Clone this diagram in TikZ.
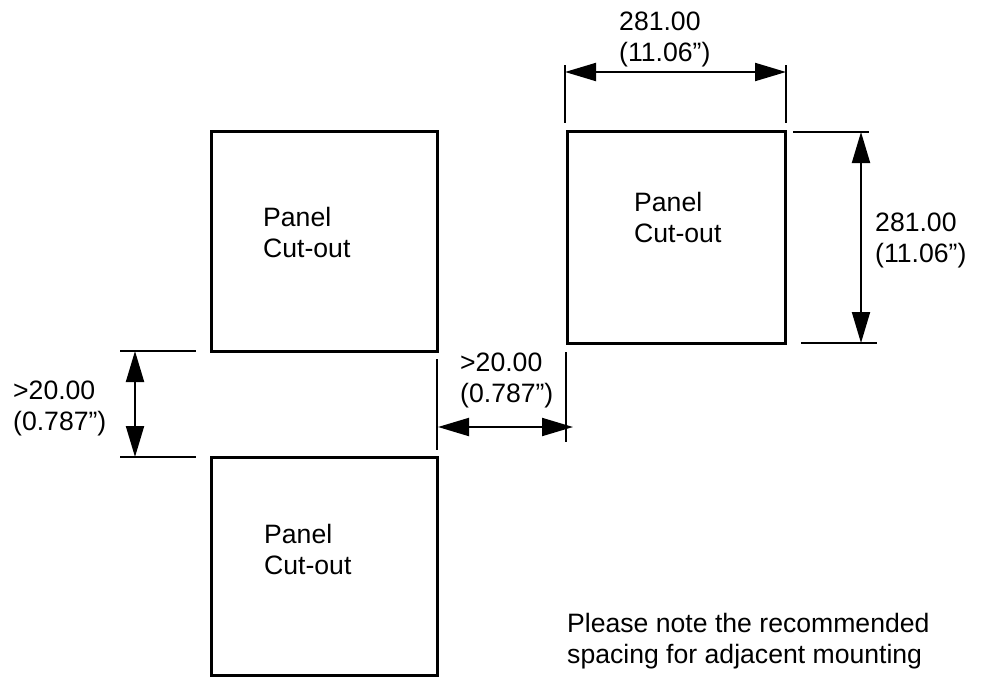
\documentclass[tikz,border=0pt]{standalone}
\usepackage{fontspec}
\setmainfont{Liberation Sans}
\usepackage{tikz}
\usetikzlibrary{arrows.meta,positioning,calc}
\tikzstyle{CUTOUT} = [rectangle, draw, line width=3pt, inner sep=0pt]
\tikzstyle{LABEL} = [anchor=base west, align=left, inner sep=0pt, font=\fontsize{26.6}{30.5}\selectfont]
\tikzstyle{EXTLINE} = [draw, line width=2pt]
\tikzstyle{DIMARROW} = [draw, line width=2pt, {Triangle[length=31pt,width=18pt]}-{Triangle[length=31pt,width=18pt]}]

\begin{document}
\begin{tikzpicture}[x=1pt, y=-1pt]
\useasboundingbox (0,0) rectangle (981,677);
% Place nodes
\node [CUTOUT, minimum width=226pt, minimum height=219.5pt] (cutTL) at (324.5,241.25) {};
\node [CUTOUT, minimum width=226pt, minimum height=217.5pt] (cutB) at (324,566.25) {};
\node [CUTOUT, minimum width=218pt, minimum height=211.5pt] (cutR) at (676,237.25) {};
\node [LABEL] (txtTL) at (263,257) {Panel\\Cut-out};
\node [LABEL] (txtB) at (264,574) {Panel\\Cut-out};
\node [LABEL] (txtR) at (634,242) {Panel\\Cut-out};
\node [LABEL] (dimTop) at (619,61) {281.00\\(11.06”)};
\node [LABEL] (dimRight) at (875,262) {281.00\\(11.06”)};
\node [LABEL] (dimLeft) at (13,430) {>20.00\\(0.787”)};
\node [LABEL] (dimMid) at (460,402) {>20.00\\(0.787”)};
\node [LABEL] (note) at (567,663) {Please note the recommended\\spacing for adjacent mounting};
% Dimension end points
\coordinate (topA) at (565,72);
\coordinate (topB) at (786,72);
\coordinate (rightA) at (861,132);
\coordinate (rightB) at (861,343);
\coordinate (leftA) at (135,351);
\coordinate (leftB) at (135,457);
\coordinate (midA) at (438,427);
\coordinate (midB) at (573,427);
% LINES and ARROWS
\path [EXTLINE] (565,65) -- (565,123);
\path [EXTLINE] (786,65) -- (786,123);
\path [EXTLINE] (793,132) -- (869,132);
\path [EXTLINE] (801,343) -- (877,343);
\path [EXTLINE] (120,351) -- (196,351);
\path [EXTLINE] (120,457) -- (196,457);
\path [EXTLINE] (437,359) -- (437,450);
\path [EXTLINE] (566,352) -- (566,442);
\path [DIMARROW] (topA) -- (topB);
\path [DIMARROW] (rightA) -- (rightB);
\path [DIMARROW] (leftA) -- (leftB);
\path [DIMARROW] (midA) -- (midB);
\end{tikzpicture}
\end{document}
